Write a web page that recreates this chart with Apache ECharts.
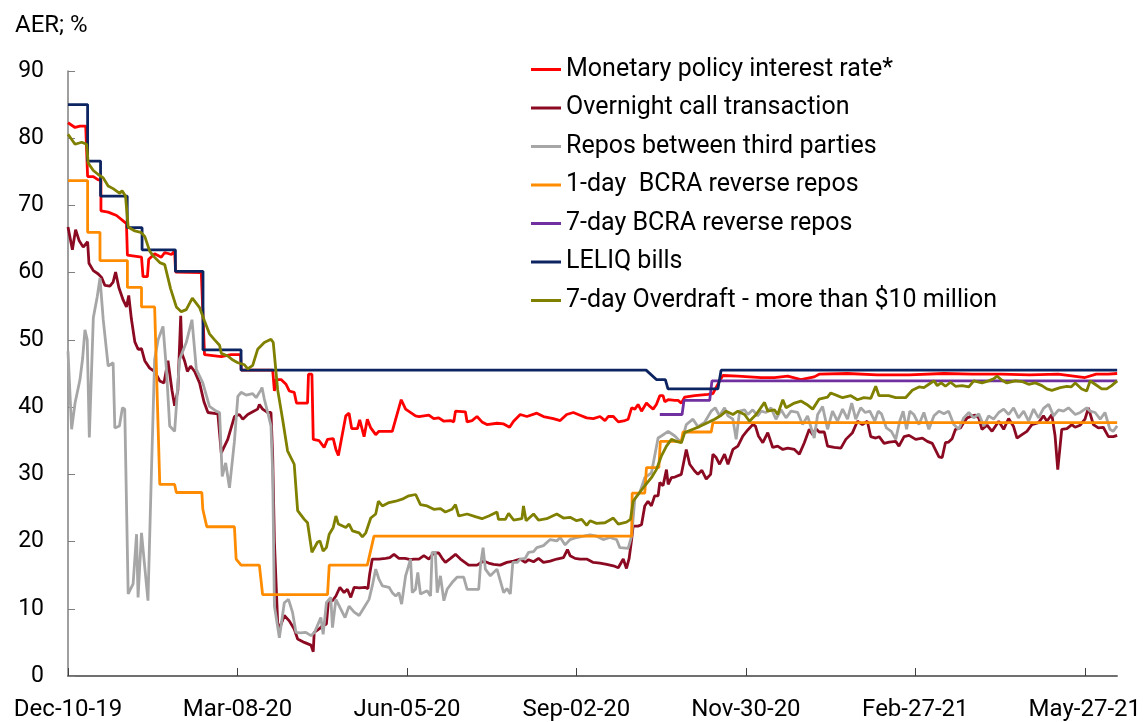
<!DOCTYPE html>
<html>
<head>
<meta charset="utf-8">
<script src="https://cdn.jsdelivr.net/npm/echarts@6/dist/echarts.min.js"></script>
<style>html,body{margin:0;padding:0;background:#fff}#c{width:1144px;height:722px}</style>
</head>
<body>
<div id="c"></div>
<script>
// x values are days since 2019-12-10
const seriesNames = ['Monetary policy interest rate*','Overnight call transaction','Repos between third parties','1-day  BCRA reverse repos','7-day BCRA reverse repos','LELIQ bills','7-day Overdraft - more than $10 million'];
const tickDays = [0, 89, 178, 267, 356, 445, 534];

const policyDay = [0,1.0,3.7,6.3,9.3,10.3,10.3,13.3,15.9,17.3,17.3,21.1,25.5,30.7,31.2,38.6,39.4,41.7,42.4,45.5,49.0,50.8,54.3,56.0,56.5,70.0,71.7,80.5,85.7,90.6,91.0,107.5,
 108.4,109.3,111.9,114.5,116.2,118.8,120.0,125.8,126.3,128.1,128.8,131.9,134.5,136.3,139.3,140.7,142.0,145.9,147.6,149.0,152.0,153.2,155.5,157.2,159.0,161.6,163.3,170.3,172.1,175.0,177.3,182.5,
 184.3,186.9,189.5,192.1,194.7,197.4,200.9,202.6,203.5,208.7,209.6,212.2,214.8,217.4,220.0,225.3,228.8,231.9,234.0,237.5,241.0,246.2,249.7,254.9,258.5,261.9,265.4,268.9,272.4,275.9,279.4,282.0,283.7,286.4,289.0,292.5,294.2,
 296.0,297.7,299.4,301.2,303.8,305.6,307.3,309.0,310.8,312.5,313.4,315.2,318.7,320.4,322.1,323.9,329.1,336.1,338.7,342.2,343.9,351.8,364.0,371.0,378.0,384.9,391.9,394.5,409.4,425,441.7,460,475,490,505,520,534.1,540,546.4,551];
const policyVal = [82.3,82.2,81.6,81.8,81.8,81.8,74.3,74.3,73.8,73.8,69.2,69.0,68.5,67.3,62.6,62.3,59.4,59.4,62.0,62.8,62.3,63.0,62.7,63.2,60.1,60.0,47.8,47.5,47.8,47.8,45.5,45.5,
 42.4,44.1,44.1,43.4,42.4,42.2,40.6,40.6,44.9,44.9,35.2,35.0,34.0,35.2,35.3,33.7,32.8,38.7,39.1,36.8,36.8,38.1,35.6,38.2,36.9,35.9,36.4,36.4,38.2,41.1,39.7,38.7,
 38.6,38.7,38.8,38.3,38.4,37.9,38.0,37.8,39.4,39.3,37.8,38.0,38.6,37.8,37.4,37.6,37.5,37.0,37.9,38.9,38.6,39.1,38.6,38.3,38.0,38.9,39.2,38.8,38.4,38.3,38.6,38.0,38.6,38.6,37.8,38.0,38.2,
 39.9,39.7,40.4,39.4,40.6,40.1,39.7,40.4,41.7,41.7,40.8,41.1,41.0,41.0,40.6,41.5,41.7,41.9,42.0,43.9,44.7,44.6,44.4,44.4,44.6,44.1,44.5,44.9,45.0,44.8,44.8,45.0,44.9,44.9,44.8,44.9,44.4,44.9,44.9,45.0];

const callDay = [0,1.0,2.3,4.0,5.8,8.0,10.3,11.0,13.3,15.9,17.6,19.4,22.0,23.7,25.0,26.7,29.0,30.7,31.9,33.3,35.1,36.8,38.6,40.3,42.9,45.5,48.2,50.4,52.5,54.6,56.0,57.7,59.2,59.8,61.2,62.7,64.4,66.5,69.1,71.4,73.5,78.7,80.5,83.9,87.4,90.0,91.8,94.4,97.0,99.6,100.5,102.2,104.9,106.6,107.5,108.4,110.1,111.0,113.6,116.2,118.8,120.6,124.1,127.6,128.8,129.3,131.9,133.7,135.7,136.8,138.9,140.7,142.8,145.0,146.7,148.5,150.3,153.0,156.0,157.5,158.4,159.8,163.3,166.8,169.0,171.2,173.8,177.0,179.9,181.7,184.3,186.9,189.5,192.1,194.7,196.5,198.2,200.9,203.5,206.1,210.4,214.8,218.3,220.9,223.5,227.0,230.5,234.0,237.5,240.1,241.9,244.5,247.1,249.7,253.2,256.7,260.2,262.3,263.7,266.3,268.9,272.4,275.9,279.4,282.9,286.4,289.0,291.6,293.3,294.7,296.0,296.8,299.4,301.2,302.9,304.6,306.4,308.1,309.9,310.8,312.5,314.3,315.2,316.9,318.7,322.1,324.7,326.5,329.1,330.8,332.9,335.2,337.5,338.7,340.4,342.2,344.8,346.6,349.2,351.8,354.4,357.0,359.6,361.0,362.6,364.9,367.5,370.1,372.7,375.4,378.0,381.5,384.1,386.7,389.3,391.1,392.8,394.5,397.2,398.9,402.4,405.9,406.8,408.5,412.0,414.6,417.2,419.8,421.6,424.2,426.0,428.6,431.3,434.7,436.4,439.1,441.7,445.2,448.7,451.3,453.9,457.4,459.1,460.8,462.5,464.3,466.1,468.7,470.4,472.2,474.8,476.5,478.3,480.0,482.7,485.3,488.8,491.4,494.0,496.6,498.4,501.0,503.6,506.2,509.7,512.3,514.1,516.7,518.4,519.8,521.9,524.6,527.2,528.9,531.5,534.1,535.9,538.5,541.1,543.7,546.4,549.0,551.0];
const callVal = [66.8,66.6,63.4,66.4,64.8,63.8,64.6,61.4,60.3,59.8,59.3,58.1,58.0,58.6,60.1,57.8,55.9,54.9,56.6,53.1,49.7,48.6,48.7,46.9,45.8,45.3,43.9,43.6,46.9,42.5,40.2,42.5,53.6,48.0,46.9,45.3,46.1,45.3,43.6,40.8,39.2,39.0,33.2,35.2,38.6,38.9,38.2,38.9,39.3,39.7,40.4,39.7,39.2,39.2,32.7,20.0,8.0,7.0,9.0,8.2,7.0,5.5,5.0,4.6,3.6,6.5,7.0,7.5,7.7,11.2,11.2,11.9,13.2,12.4,12.9,11.7,13.2,13.1,13.2,13.0,15.1,17.4,17.4,17.5,17.6,18.1,17.5,17.5,17.3,17.4,17.4,17.9,17.4,18.3,18.3,17.5,16.9,17.5,18.1,17.4,16.5,16.5,17.1,16.8,16.6,16.5,16.9,17.1,17.4,16.9,17.3,17.0,17.5,16.9,17.1,17.4,17.6,18.8,17.9,17.5,17.4,17.4,16.9,16.8,16.6,16.4,16.1,17.4,16.0,17.5,20.3,22.3,22.3,22.5,25.3,26.0,25.3,26.8,26.8,28.8,28.3,30.7,28.5,29.5,29.6,30.0,33.7,31.5,30.5,30.0,30.6,29.3,30.0,33.0,32.5,31.5,33.0,31.5,33.7,34.2,35.7,36.6,37.4,37.2,35.7,34.7,36.2,34.0,34.2,33.7,33.9,33.7,33.0,34.7,36.7,35.9,36.8,36.3,36.3,34.2,34.0,33.9,33.7,35.2,36.2,37.9,37.4,37.9,35.6,35.4,35.6,34.6,34.8,34.9,34.2,35.6,35.8,35.2,35.4,34.9,34.6,32.6,32.5,34.7,34.8,35.3,36.7,36.9,37.7,38.4,38.7,38.8,38.4,36.7,37.3,36.4,37.9,36.7,38.3,37.1,35.4,35.9,36.4,37.4,37.7,38.7,37.9,38.9,35.7,30.7,36.7,36.8,37.4,37.0,37.3,38.2,39.9,37.4,36.9,37.0,35.6,35.6,35.8];

const repoDay = [0,1.9,3.7,6.3,7.7,8.9,10.1,11.2,13.3,15.4,16.8,18.5,21.1,23.7,24.6,27.0,28.6,29.8,31.6,34.2,36.0,36.8,38.6,42.0,43.8,45.5,47.3,49.9,51.7,53.4,56.0,58.6,62.1,65.1,67.4,70.8,74.3,77.8,79.6,81.0,82.8,84.8,87.4,89.2,90.9,93.5,97.0,98.8,101.4,101.9,103.1,104.9,106.6,107.5,108.4,111.0,113.6,115.8,117.9,119.7,122.0,124.9,127.6,129.5,131.0,132.8,134.0,135.7,138.0,138.9,140.7,142.8,145.5,147.6,150.3,152.9,155.5,158.1,159.8,161.6,163.3,165.1,168.6,170.3,172.1,173.8,175.2,177.3,179.9,180.8,182.5,183.7,185.1,188.6,190.4,191.2,192.9,193.9,195.6,197.4,199.1,201.7,204.3,207.8,209.6,215.7,216.6,218.0,219.2,221.8,225.3,228.8,230.5,232.3,233.6,236.0,237.5,240.1,241.9,244.5,246.2,249.7,253.2,256.7,258.5,261.1,263.7,267.1,270.7,274.2,277.6,281.1,284.6,288.1,289.8,294.2,296.0,297.7,300.3,302.9,306.4,309.9,311.6,315.2,318.7,322.1,324.7,328.2,330.8,334.3,337.8,339.9,342.2,344.8,346.6,349.2,350.9,352.7,355.3,357.0,359.6,362.2,364.0,366.6,369.2,371.8,374.5,377.1,379.7,383.2,385.8,388.4,391.9,393.7,396.3,398.9,401.5,404.1,406.8,409.4,411.6,413.7,416.3,418.7,421.1,423.7,425.5,427.2,429.8,432.4,434.7,436.8,438.6,440.4,442.1,444.2,446.9,449.5,452.1,454.8,457.4,460.0,462.5,465.2,467.8,470.4,473.1,475.7,478.3,481.0,483.5,486.1,488.8,491.4,494.0,496.6,499.2,501.9,504.5,507.1,509.7,512.3,515.0,517.6,520.2,522.8,525.4,529.0,531.6,535.0,536.8,539.4,542.1,544.6,547.2,548.9,551.0];
const repoVal = [48.3,36.7,40.6,44.1,47.3,51.5,50.0,35.5,53.3,56.5,59.2,53.0,46.1,46.6,36.9,37.2,39.9,39.7,12.2,13.7,21.1,11.7,21.3,11.2,30.2,47.1,50.0,52.0,45.6,37.2,36.4,47.1,49.6,53.0,45.6,43.6,40.1,39.4,39.2,29.7,31.7,28.0,34.9,41.6,42.2,41.8,42.0,41.4,42.6,42.9,41.2,39.2,37.2,30.2,10.4,5.7,10.9,11.4,9.5,6.5,6.4,6.5,6.0,6.5,7.5,8.7,6.2,10.9,11.7,7.2,11.4,10.2,8.7,10.4,9.5,9.0,10.2,11.4,13.4,15.9,14.4,13.4,13.2,12.4,11.9,12.4,10.7,14.9,17.4,12.4,12.9,15.4,12.2,12.7,11.9,18.4,18.4,12.4,14.9,11.2,12.9,13.9,14.7,14.7,12.9,12.9,16.4,19.1,15.9,14.9,15.9,12.4,13.0,12.2,16.9,16.9,17.4,17.5,18.4,18.5,19.1,19.4,20.3,20.1,20.6,19.5,20.3,20.6,20.8,21.0,20.8,20.3,20.6,20.3,19.1,19.0,20.8,26.4,27.3,29.5,30.2,35.4,35.7,36.4,35.7,34.7,37.4,38.2,37.1,37.7,39.4,39.9,38.7,39.9,38.7,38.2,35.2,39.4,39.6,38.9,39.6,38.7,39.4,39.2,39.9,38.2,39.6,38.4,39.4,39.2,37.4,38.7,35.4,38.9,40.1,36.7,39.4,37.9,39.7,38.2,40.6,38.2,39.9,39.2,39.4,37.9,39.4,39.0,36.9,36.4,35.2,37.9,39.4,36.7,39.4,38.9,37.4,39.2,36.7,38.7,39.4,39.0,39.4,37.4,36.7,38.4,39.2,38.4,39.0,37.2,38.7,38.2,39.2,39.7,38.9,39.9,38.4,39.4,37.9,39.7,38.4,39.8,40.4,38.7,39.6,39.4,39.9,38.9,39.2,39.9,39.4,39.2,38.2,39.2,36.7,36.4,37.2];

const rev1Day = [0,10.3,10.3,16.8,16.8,31.2,31.2,38.6,38.6,45.5,48.2,56.0,56.9,70.3,70.8,72.9,87.4,88.3,90.9,100.5,102.2,136.3,137.2,157.2,160.7,296.0,296.3,302.9,303.8,310.3,311.1,322.1,323.0,337.8,338.7,551];
const rev1Val = [73.7,73.7,66.0,66.0,61.8,61.8,57.8,57.8,54.9,54.9,28.5,28.5,27.3,27.3,24.8,22.2,22.2,17.4,16.5,16.5,12.1,12.1,16.5,16.5,20.8,20.8,27.2,27.2,31.0,31.0,34.9,34.9,36.3,36.3,37.7,37.7];

const rev7Day = [310.8,322.5,323.5,337.0,338.2,551];
const rev7Val = [38.9,38.9,41.0,41.0,43.9,43.9];

const leliqDay = [0,10.3,10.3,17.1,17.1,31.1,31.1,38.9,38.9,56.4,56.4,70.9,70.9,90.9,90.9,303.6,309.0,313.7,315.1,341.3,343.0,551];
const leliqVal = [85.0,85.0,76.6,76.6,71.4,71.4,66.7,66.7,63.4,63.4,60.2,60.2,48.5,48.5,45.5,45.5,44.1,44.1,42.7,42.7,45.5,45.5];

const odDay = [0,1.0,3.7,7.2,9.8,10.6,13.3,15.9,18.5,21.1,23.7,27.2,28.4,30.2,31.6,35.1,38.2,40.3,42.9,44.7,48.2,50.8,53.9,56.9,59.5,62.1,65.3,69.1,71.7,74.3,77.0,79.6,80.5,83.9,86.6,89.2,90.0,92.7,94.4,97.0,99.6,103.1,106.6,107.8,110.1,112.7,115.3,118.8,120.6,124.1,125.8,126.5,128.1,131.0,132.3,134.0,135.7,137.2,139.3,140.7,142.0,145.9,147.6,149.4,152.9,154.6,156.4,159.0,161.6,163.0,165.1,168.6,172.1,175.5,179.0,182.6,185.1,188.6,192.1,195.6,198.2,201.7,203.5,205.2,209.6,213.9,217.4,221.0,225.3,226.1,229.7,231.4,234.0,238.4,239.2,240.6,244.5,247.1,251.4,256.7,260.2,263.7,267.1,269.8,272.4,274.2,277.6,282.0,286.4,289.0,293.3,295.4,296.8,299.4,302.9,306.4,309.0,311.6,314.3,316.9,319.5,322.1,323.9,328.2,331.7,336.1,339.6,343.1,345.7,349.2,351.8,355.3,357.9,361.4,365.8,367.5,371.0,372.7,375.4,377.1,381.5,384.9,388.0,391.1,394.5,398.9,400.6,405.0,406.8,411.1,414.6,418.0,421.6,424.2,425.9,431.0,434.7,439.9,443.4,446.9,449.5,452.1,454.8,456.5,458.6,460.8,463.5,466.1,469.6,473.1,475.7,480.0,483.5,486.1,487.9,490.5,493.1,497.5,501.0,504.5,508.0,511.5,514.1,516.7,521.1,524.6,526.8,529.0,532.4,535.0,536.8,539.4,542.9,545.5,548.1,551.0];
const odVal = [80.6,80.4,79.1,79.4,79.1,76.3,75.2,74.6,74.1,72.9,72.5,71.8,72.2,71.4,66.8,66.2,66.0,65.4,63.2,62.5,61.5,61.2,57.6,54.9,54.2,54.5,56.2,54.8,52.8,50.9,50.0,49.2,48.0,47.6,47.0,46.6,46.6,46.3,45.7,46.2,48.6,49.6,50.1,49.6,42.6,38.2,33.5,31.5,24.6,23.3,22.8,23.0,18.4,19.9,20.1,18.6,19.1,21.1,22.1,23.8,22.6,22.1,22.6,21.6,21.3,20.7,21.3,23.5,24.1,26.0,25.3,25.8,26.0,26.3,26.8,27.0,25.5,25.3,24.8,24.9,24.4,24.8,25.5,23.8,24.1,23.7,23.4,23.8,24.4,23.3,23.3,24.2,23.2,23.4,25.3,23.1,24.1,23.2,23.4,24.1,23.5,23.6,23.1,23.3,22.4,23.1,22.7,22.8,23.5,22.6,22.9,23.3,26.0,27.0,28.3,29.5,30.7,32.7,34.2,35.2,34.9,34.7,36.2,36.7,37.1,37.7,38.2,38.8,39.4,38.9,39.4,38.9,37.9,38.9,40.7,39.4,39.6,38.9,41.1,39.9,40.6,40.9,40.4,39.7,41.2,41.5,42.1,41.6,41.4,41.7,41.1,41.4,41.3,43.1,41.7,41.7,41.4,41.4,42.5,43.0,42.9,43.4,43.9,43.2,43.6,43.1,43.7,43.1,43.2,43.0,43.9,43.6,43.9,44.2,44.6,44.0,43.6,43.9,43.8,43.4,43.6,43.2,42.7,42.5,42.9,43.1,43.0,43.6,42.7,42.4,43.9,43.4,42.7,42.7,43.2,43.9];

const colors = ['#ff0000','#8b0a22','#a6a6a6','#ff8c00','#7030a0','#0c2461','#808000'];
const dayLists = [policyDay, callDay, repoDay, rev1Day, rev7Day, leliqDay, odDay];
const valLists = [policyVal, callVal, repoVal, rev1Val, rev7Val, leliqVal, odVal];

const MONTHS = ['Jan','Feb','Mar','Apr','May','Jun','Jul','Aug','Sep','Oct','Nov','Dec'];
const BASE = Date.UTC(2019, 11, 10);
function fmtDay(v) {
  const d = new Date(BASE + Math.round(v) * 86400000);
  const dd = String(d.getUTCDate()).padStart(2, '0');
  return MONTHS[d.getUTCMonth()] + '-' + dd + '-' + String(d.getUTCFullYear()).slice(2);
}

const FONT = 'Roboto';
const chart = echarts.init(document.getElementById('c'), null, {renderer: 'canvas'});
chart.setOption({
  animation: false,
  backgroundColor: '#ffffff',
  textStyle: {fontFamily: FONT},
  title: {text: 'AER; %', left: 15, top: 14, padding: 0, textStyle: {fontFamily: FONT, fontSize: 24, fontWeight: 'normal', color: '#000'}},
  legend: {
    orient: 'vertical', left: 531, top: 57, padding: 0,
    itemWidth: 30, itemHeight: 25, itemGap: 13.5,
    icon: 'path://M0,0 L30,0 L30,3 L0,3 Z',
    textStyle: {fontFamily: FONT, fontSize: 25, lineHeight: 25, color: '#000'},
    data: seriesNames
  },
  grid: {left: 68, right: 23.5, top: 71, bottom: 45},
  xAxis: {
    type: 'value', min: 0, max: 551,
    splitLine: {show: false},
    axisLine: {lineStyle: {color: '#404040', width: 1.5}},
    axisTick: {inside: true, length: 8, customValues: tickDays, lineStyle: {color: '#404040', width: 1}},
    axisLabel: {customValues: tickDays, formatter: fmtDay, margin: 22, fontFamily: FONT, fontSize: 24, color: '#000'}
  },
  yAxis: {
    type: 'value', min: 0, max: 90, interval: 10,
    splitLine: {show: false},
    axisLine: {show: true, lineStyle: {color: '#7f7f7f', width: 1.5}},
    axisTick: {show: true, inside: true, length: 7, lineStyle: {color: '#7f7f7f'}},
    axisLabel: {margin: 24, fontFamily: FONT, fontSize: 23, color: '#000'}
  },
  series: seriesNames.map((name, i) => ({
    name: name, type: 'line', symbol: 'none', showSymbol: false,
    color: colors[i],
    lineStyle: {color: colors[i], width: 2.8},
    data: dayLists[i].map((d, k) => [d, valLists[i][k]])
  }))
});
</script>
</body>
</html>
